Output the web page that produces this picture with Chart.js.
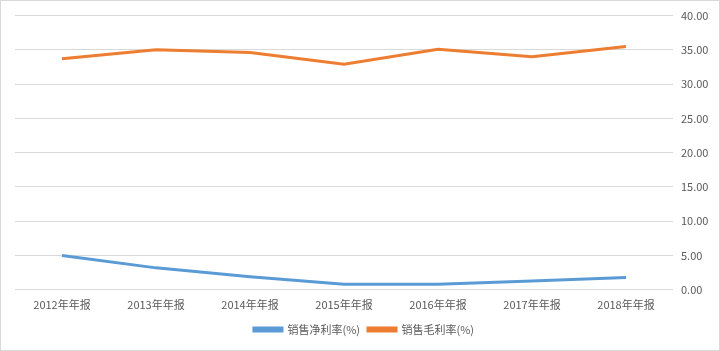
<!DOCTYPE html>
<html>
<head>
<meta charset="utf-8">
<script src="https://cdn.jsdelivr.net/npm/chart.js@4/dist/chart.umd.min.js"></script>
<style>
  html, body { margin: 0; padding: 0; background: #fff; }
  #wrap { position: relative; width: 718px; height: 349px; border: 1px solid #d9d9d9; }
</style>
</head>
<body>
<div id="wrap"><canvas id="c"></canvas></div>
<script>
var years = ['2012年年报', '2013年年报', '2014年年报', '2015年年报', '2016年年报', '2017年年报', '2018年年报'];
var netMargin = [5.0, 3.2, 1.9, 0.8, 0.8, 1.3, 1.8];
var grossMargin = [33.7, 35.0, 34.6, 32.9, 35.1, 34.0, 35.5];

Chart.defaults.font.family = "'Noto Sans CJK SC', 'DejaVu Sans', sans-serif";
Chart.defaults.font.size = 11;
Chart.defaults.color = '#595959';

var ctx = document.getElementById('c');
var chart = new Chart(ctx, {
	type: 'line',
	data: {
		labels: years,
		datasets: [{
			label: '销售净利率(%)',
			data: netMargin,
			borderColor: '#5B9BD5',
			backgroundColor: '#5B9BD5',
			borderWidth: 3,
			pointRadius: 0,
			tension: 0
		}, {
			label: '销售毛利率(%)',
			data: grossMargin,
			borderColor: '#ED7D31',
			backgroundColor: '#ED7D31',
			borderWidth: 3,
			pointRadius: 0,
			tension: 0
		}]
	},
	options: {
		responsive: true,
		maintainAspectRatio: false,
		animation: false,
		layout: { padding: { left: 14, right: 6, top: 8, bottom: 5 } },
		plugins: {
			tooltip: { enabled: false },
			legend: {
				position: 'bottom',
				labels: { boxWidth: 28, boxHeight: 3, padding: 8, font: { size: 11 } }
			}
		},
		scales: {
			x: {
				offset: true,
				grid: { display: false },
				border: { display: false },
				ticks: { padding: 0, maxRotation: 0 },
				afterFit: function(scale) { scale.height += 5; }
			},
			y: {
				position: 'right',
				min: 0,
				max: 40,
				grid: { color: '#d9d9d9', drawTicks: false },
				border: { display: false },
				ticks: {
					stepSize: 5,
					padding: 8,
					callback: function(v) { return v.toFixed(2); }
				},
				afterFit: function(scale) { scale.width = 40; }
			}
		}
	}
});
</script>
</body>
</html>
